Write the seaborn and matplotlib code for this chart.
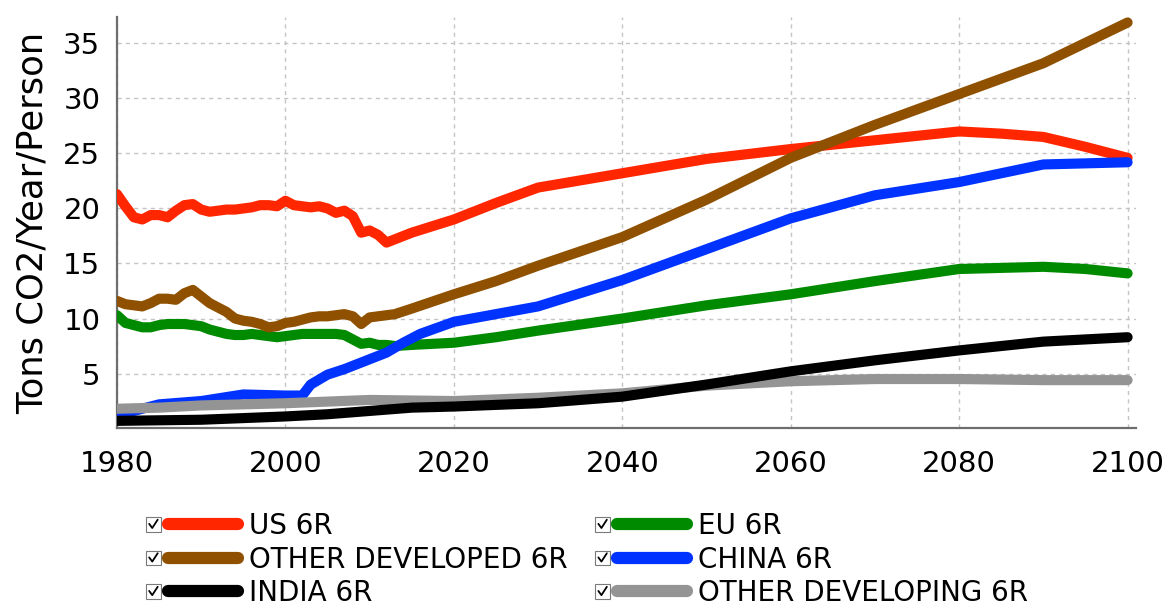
import matplotlib
matplotlib.use("Agg")
import numpy as np
import pandas as pd
import seaborn as sns
import matplotlib.pyplot as plt
from matplotlib.legend_handler import HandlerBase
from matplotlib.patches import Rectangle
from matplotlib.lines import Line2D
from matplotlib.ticker import MultipleLocator, FixedLocator

# ---------------- data ----------------
us_years = [1980, 1981, 1982, 1983, 1984, 1985, 1986, 1987, 1988, 1989, 1990, 1991, 1992,
            1993, 1994, 1995, 1996, 1997, 1998, 1999, 2000, 2001, 2002, 2003, 2004, 2005,
            2006, 2007, 2008, 2009, 2010, 2011, 2012, 2013, 2015, 2020, 2025, 2030, 2040,
            2050, 2060, 2070, 2080, 2085, 2090, 2095, 2100]
us_vals = [21.3, 20.2, 19.2, 19.0, 19.4, 19.4, 19.2, 19.8, 20.3, 20.4, 19.9, 19.7, 19.8,
           19.9, 19.9, 20.0, 20.1, 20.3, 20.3, 20.2, 20.7, 20.3, 20.2, 20.1, 20.2, 20.0,
           19.6, 19.8, 19.3, 17.8, 18.0, 17.6, 16.9, 17.2, 17.8, 19.0, 20.5, 21.9, 23.2,
           24.5, 25.4, 26.2, 27.0, 26.8, 26.5, 25.6, 24.6]

od_years = [1980, 1981, 1982, 1983, 1984, 1985, 1986, 1987, 1988, 1989, 1990, 1991, 1992,
            1993, 1994, 1995, 1996, 1997, 1998, 1999, 2000, 2001, 2002, 2003, 2004, 2005,
            2006, 2007, 2008, 2009, 2010, 2011, 2012, 2013, 2015, 2020, 2025, 2030, 2040,
            2050, 2060, 2070, 2080, 2090, 2100]
od_vals = [11.6, 11.3, 11.2, 11.1, 11.4, 11.8, 11.8, 11.7, 12.3, 12.6, 12.0, 11.4, 11.0,
           10.6, 10.0, 9.8, 9.7, 9.5, 9.2, 9.3, 9.6, 9.7, 9.9, 10.1, 10.2, 10.2,
           10.3, 10.4, 10.2, 9.5, 10.1, 10.2, 10.3, 10.4, 10.9, 12.2, 13.4, 14.8, 17.4,
           20.8, 24.6, 27.6, 30.4, 33.2, 36.9]

eu_years = [1980, 1981, 1982, 1983, 1984, 1985, 1986, 1987, 1988, 1989, 1990, 1991, 1992,
            1993, 1994, 1995, 1996, 1997, 1998, 1999, 2000, 2001, 2002, 2003, 2004, 2005,
            2006, 2007, 2008, 2009, 2010, 2011, 2012, 2013, 2015, 2020, 2025, 2030, 2040,
            2050, 2060, 2070, 2080, 2090, 2095, 2100]
eu_vals = [10.3, 9.6, 9.4, 9.2, 9.2, 9.4, 9.5, 9.5, 9.5, 9.4, 9.3, 9.0, 8.8,
           8.6, 8.5, 8.5, 8.6, 8.5, 8.4, 8.3, 8.4, 8.5, 8.6, 8.6, 8.6, 8.6,
           8.6, 8.5, 8.1, 7.7, 7.8, 7.6, 7.6, 7.5, 7.6, 7.8, 8.3, 8.9, 10.0,
           11.2, 12.2, 13.4, 14.5, 14.7, 14.5, 14.1]

china_years = [1980, 1985, 1990, 1995, 2000, 2002, 2003, 2005, 2007, 2010, 2012, 2014,
               2016, 2020, 2025, 2030, 2040, 2050, 2060, 2070, 2080, 2090, 2100]
china_vals = [1.2, 2.2, 2.5, 3.1, 3.0, 3.0, 4.0, 4.9, 5.4, 6.3, 6.9, 7.8,
              8.6, 9.7, 10.4, 11.1, 13.5, 16.3, 19.1, 21.2, 22.4, 24.0, 24.2]

india_years = [1980, 1990, 2000, 2005, 2010, 2015, 2020, 2030, 2040, 2050, 2060, 2070,
               2080, 2090, 2100]
india_vals = [0.7, 0.8, 1.1, 1.3, 1.6, 1.9, 2.0, 2.3, 2.9, 4.0, 5.2, 6.2,
              7.1, 7.9, 8.3]

odev_years = [1980, 1985, 1990, 2000, 2010, 2020, 2030, 2040, 2050, 2060, 2070, 2080,
              2090, 2100]
odev_vals = [1.8, 1.9, 2.1, 2.3, 2.6, 2.5, 2.8, 3.2, 3.9, 4.3, 4.5, 4.5,
             4.4, 4.4]

series_names = ["US 6R", "EU 6R", "OTHER DEVELOPED 6R", "CHINA 6R",
                "INDIA 6R", "OTHER DEVELOPING 6R"]
series_colors = ["#ff2600", "#008a00", "#8f5000", "#0033ff", "#000000", "#949494"]

y_ticks = [5, 10, 15, 20, 25, 30, 35]
y_label = "Tons CO2/Year/Person"

# ---------------- build long-form table ----------------
frames = []
for name, yrs, vals in [("US 6R", us_years, us_vals),
                        ("EU 6R", eu_years, eu_vals),
                        ("OTHER DEVELOPED 6R", od_years, od_vals),
                        ("CHINA 6R", china_years, china_vals),
                        ("INDIA 6R", india_years, india_vals),
                        ("OTHER DEVELOPING 6R", odev_years, odev_vals)]:
    frames.append(pd.DataFrame({"year": yrs, "value": vals, "series": name}))
df = pd.concat(frames, ignore_index=True)
palette = dict(zip(series_names, series_colors))

# ---------------- style ----------------
sns.set_theme(style="white")
plt.rcParams["font.family"] = ["DejaVu Sans"]
plt.rcParams["text.color"] = "black"
plt.rcParams["axes.labelcolor"] = "black"
plt.rcParams["xtick.color"] = "black"
plt.rcParams["ytick.color"] = "black"

fig = plt.figure(figsize=(11.7, 6.07), dpi=100)
ax = fig.add_axes([117 / 1170, 1 - 428 / 607, (1136 - 117) / 1170, (428 - 17) / 607])

draw_order = ["US 6R", "EU 6R", "OTHER DEVELOPED 6R", "CHINA 6R",
              "OTHER DEVELOPING 6R", "INDIA 6R"]
sns.lineplot(data=df, x="year", y="value", hue="series", hue_order=draw_order,
             palette=palette, linewidth=7.3, legend=False, ax=ax,
             estimator=None, solid_capstyle="round", zorder=3)

ax.set_xlim(1980, 2101)
ax.set_ylim(0.05, 37.4)
ax.xaxis.set_major_locator(MultipleLocator(20))
ax.xaxis.set_minor_locator(MultipleLocator(5))
ax.yaxis.set_major_locator(FixedLocator(y_ticks))
ax.yaxis.set_minor_locator(MultipleLocator(2.5))

ax.set_axisbelow(True)
ax.grid(True, which="major", color="#c4c4c4", linestyle=(0, (3, 3)), linewidth=1.0)

for s in ["top", "right"]:
    ax.spines[s].set_visible(False)
for s in ["left", "bottom"]:
    ax.spines[s].set_color("#6e6e6e")
    ax.spines[s].set_linewidth(1.6)

ax.tick_params(axis="both", which="both", direction="out", color="#8a8a8a",
               width=1.0, labelsize=21, labelcolor="black")
ax.tick_params(axis="both", which="major", length=5)
ax.tick_params(axis="both", which="minor", length=4)
ax.tick_params(axis="x", which="major", pad=11)
ax.tick_params(axis="y", which="major", pad=7)

ax.set_xlabel("")
ax.set_ylabel(y_label, fontsize=25.5, labelpad=10, color="black")


# ---------------- legend with checkboxes ----------------
class CheckLineHandler(HandlerBase):
    def create_artists(self, legend, orig_handle, xdescent, ydescent, width, height,
                       fontsize, trans):
        x0 = -xdescent
        ym = -ydescent + height / 2
        box = Rectangle((x0, ym - 5.25), 10.5, 10.5, facecolor="white", edgecolor="#7a7a7a",
                        linewidth=0.8, transform=trans)
        check = Line2D([x0 + 2.3, x0 + 4.5, x0 + 8.4], [ym + 0.3, ym - 2.7, ym + 3.3],
                       color="black", linewidth=1.3, transform=trans)
        line = Line2D([x0 + 16, x0 + width - 4], [ym, ym], color=orig_handle.get_color(),
                      linewidth=8.8, solid_capstyle="round", transform=trans)
        return [box, check, line]


legend_order = ["US 6R", "OTHER DEVELOPED 6R", "INDIA 6R",
                "EU 6R", "CHINA 6R", "OTHER DEVELOPING 6R"]
handles = [Line2D([], [], color=palette[n], label=n) for n in legend_order]
leg = fig.legend(handles=handles, labels=legend_order,
                 handler_map={Line2D: CheckLineHandler()},
                 ncol=2, loc="upper left", bbox_to_anchor=(146 / 1170, 1 - 512 / 607),
                 bbox_transform=fig.transFigure, frameon=False, fontsize=20,
                 handlelength=3.5, handletextpad=0.2, columnspacing=1.0,
                 labelspacing=0.2, borderpad=0, borderaxespad=0)
for t in leg.get_texts():
    t.set_color("black")

fig.savefig("out.png", dpi=100)
